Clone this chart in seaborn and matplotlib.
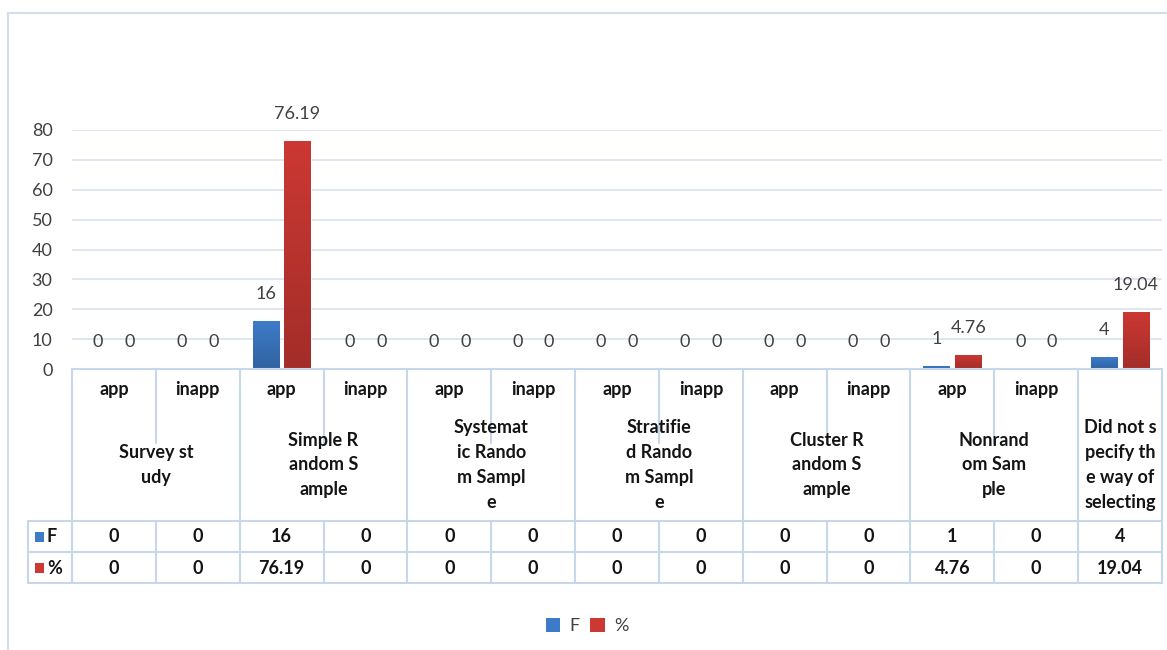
import numpy as np
import pandas as pd
import matplotlib
matplotlib.use("Agg")
import matplotlib.pyplot as plt
from matplotlib.patches import Rectangle, Patch
from matplotlib.lines import Line2D
import seaborn as sns

# ---- data -------------------------------------------------------------
group_labels = [
    "Survey st\nudy",
    "Simple R\nandom S\nample",
    "Systemat\nic Rando\nm Sampl\ne",
    "Stratifie\nd Rando\nm Sampl\ne",
    "Cluster R\nandom S\nample",
    "Nonrand\nom Sam\nple",
    "Did not s\npecify th\ne way of\nselecting",
]
sub_labels = ["app", "inapp"]
series_names = ["F", "%"]
f_values = [0, 0, 16, 0, 0, 0, 0, 0, 0, 0, 1, 0, 4]
pct_values = [0, 0, 76.19, 0, 0, 0, 0, 0, 0, 0, 4.76, 0, 19.04]
y_ticks = [0, 10, 20, 30, 40, 50, 60, 70, 80]

# ---- build column keys (6 groups with app/inapp, last group single) ----
col_keys, col_sub, col_group = [], [], []
for gi, g in enumerate(group_labels):
    if gi < len(group_labels) - 1:
        for s in sub_labels:
            col_keys.append(f"{gi}-{s}")
            col_sub.append(s)
            col_group.append(gi)
    else:
        col_keys.append(f"{gi}")
        col_sub.append("")
        col_group.append(gi)
n = len(col_keys)

df = pd.DataFrame({
    "col": col_keys * 2,
    "value": f_values + pct_values,
    "series": [series_names[0]] * n + [series_names[1]] * n,
})

# ---- style --------------------------------------------------------------
W, H, DPI = 1167, 650, 100
sns.set_theme(style="white")
plt.rcParams["font.family"] = ["Lato", "DejaVu Sans"]
text_color = "#404040"
grid_color = "#D9E2EE"
line_color = "#C8D6EA"
blue = "#3D7BC9"
red = "#CC3833"

fig = plt.figure(figsize=(W / DPI, H / DPI), dpi=DPI)

def fx(px):
    return px / W

def fy(py):
    return 1 - py / H

ax_left, ax_right, ax_top, ax_bottom = 72, 1162, 130, 369
ax = fig.add_axes([fx(ax_left), fy(ax_bottom), fx(ax_right - ax_left),
                   (ax_bottom - ax_top) / H])

sns.barplot(data=df, x="col", y="value", hue="series", order=col_keys,
            hue_order=series_names, palette=[blue, red], width=0.76,
            gap=0.18, saturation=1, legend=False, ax=ax, zorder=3)

ax.set_xlim(-0.5, n - 0.5)
ax.set_ylim(0, 80)
ax.set_yticks(y_ticks)
ax.tick_params(axis="y", labelsize=13, colors=text_color, length=0, pad=14)
ax.set_xticks([])
ax.set_xlabel("")
ax.set_ylabel("")
for sp in ax.spines.values():
    sp.set_visible(False)
ax.yaxis.grid(True, color=grid_color, linewidth=1.2, zorder=0)
ax.set_axisbelow(True)

# vertical shading on bars, darker toward the base
grad = np.linspace(1.0, 0.8, 256).reshape(-1, 1)
for p in list(ax.patches):
    h = p.get_height()
    if h <= 0:
        continue
    x0, w = p.get_x(), p.get_width()
    base = np.array(matplotlib.colors.to_rgb(p.get_facecolor()))
    img = grad[..., None] * base[None, None, :]
    im = ax.imshow(img, extent=[x0, x0 + w, 0, h], aspect="auto",
                   zorder=3.5, interpolation="bilinear")
    im.set_clip_path(p)

# value labels above each bar
for series, vals, sign in [(series_names[0], f_values, -1),
                           (series_names[1], pct_values, 1)]:
    for i, v in enumerate(vals):
        xpos = i + sign * 0.19
        ax.annotate(f"{v:g}", xy=(xpos, v), xytext=(0, 19.5),
                    textcoords="offset points", ha="center", va="center",
                    fontsize=13, color=text_color, annotation_clip=False)

# ---- data table under the axis -------------------------------------------
col_w = (ax_right - ax_left) / n
edges = [ax_left + i * col_w for i in range(n + 1)]
tbl_left = 28
row_hdr_bottom, row_f_bottom, row_p_bottom = 521, 552, 583

def hline(x0, x1, y):
    fig.add_artist(Line2D([fx(x0), fx(x1)], [fy(y), fy(y)],
                          color=line_color, linewidth=1.5))

def vline(x, y0, y1):
    fig.add_artist(Line2D([fx(x), fx(x)], [fy(y0), fy(y1)],
                          color=line_color, linewidth=1.5))

hline(ax_left, ax_right, ax_bottom)
hline(tbl_left, ax_right, row_hdr_bottom)
hline(tbl_left, ax_right, row_f_bottom)
hline(tbl_left, ax_right, row_p_bottom)
vline(tbl_left, row_hdr_bottom, row_p_bottom)

for i, e in enumerate(edges):
    is_group_edge = (i == 0 or i == n or
                     col_group[i] != col_group[i - 1])
    if is_group_edge:
        vline(e, ax_bottom, row_p_bottom)
    else:
        vline(e, ax_bottom, 443)
        vline(e, row_hdr_bottom, row_p_bottom)

tkw = dict(fontsize=13, fontweight="bold", color="#141414",
           ha="center", va="center")
for i in range(n):
    cx = fx(ax_left + (i + 0.5) * col_w)
    if col_sub[i]:
        fig.text(cx, fy(389), col_sub[i], **tkw)
    fig.text(cx, fy(537), f"{f_values[i]:g}", **tkw)
    fig.text(cx, fy(568), f"{pct_values[i]:g}", **tkw)

for gi, g in enumerate(group_labels):
    idx = [i for i in range(n) if col_group[i] == gi]
    gx = ax_left + (idx[0] + idx[-1] + 1) / 2 * col_w
    fig.text(fx(gx), fy(465), g, linespacing=1.55, **tkw)

# series keys in the table row headers
for (yc, c, name) in [(537, blue, series_names[0]), (568, red, series_names[1])]:
    fig.add_artist(Rectangle((fx(35), fy(yc + 5)), fx(9), 10 / H,
                             facecolor=c, edgecolor="none"))
    fig.text(fx(47), fy(yc), name, fontsize=13, fontweight="bold",
             color="#141414", ha="left", va="center")

# ---- legend -----------------------------------------------------------------
handles = [Patch(facecolor=blue, edgecolor="none", label=series_names[0]),
           Patch(facecolor=red, edgecolor="none", label=series_names[1])]
fig.legend(handles=handles, loc="center", bbox_to_anchor=(fx(587), fy(626)),
           ncol=2, frameon=False, fontsize=13, handlelength=0.8,
           handleheight=0.8, handletextpad=0.5, columnspacing=0.6,
           labelcolor=text_color)

# chart frame
fig.add_artist(Rectangle((fx(8), fy(H + 20)), fx(W + 20), (H + 20 - 13) / H,
                         facecolor="none", edgecolor="#D3DEEC", linewidth=1.5))

fig.savefig("out.png", dpi=DPI)
